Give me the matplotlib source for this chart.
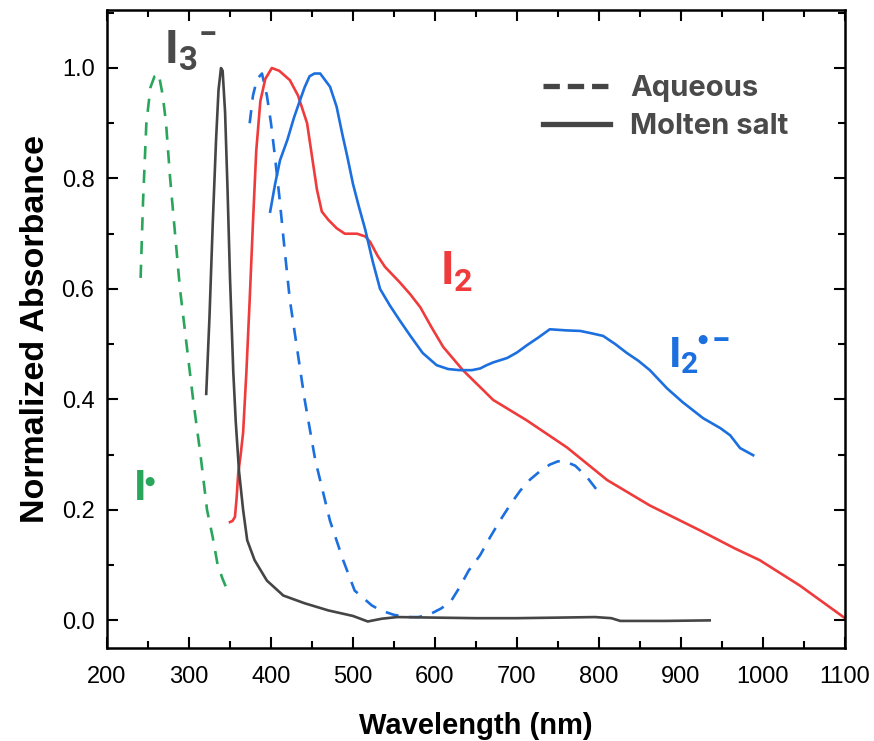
import numpy as np
import matplotlib.pyplot as plt
from matplotlib.lines import Line2D
from matplotlib.ticker import MultipleLocator

plt.rcParams['font.family'] = ['Liberation Sans', 'DejaVu Sans']
plt.rcParams['mathtext.fontset'] = 'custom'
plt.rcParams['mathtext.rm'] = 'Roboto:bold'
plt.rcParams['mathtext.it'] = 'Roboto:bold'
plt.rcParams['mathtext.bf'] = 'Roboto:bold'

# I* radical, aqueous (dashed green)
i_rad_wl = [241, 244, 248, 253, 258, 263, 268, 272, 277, 283, 289, 297, 305, 314, 322, 329, 335, 341, 348]
i_rad_abs = [0.62, 0.76, 0.90, 0.965, 0.985, 0.99, 0.95, 0.90, 0.80, 0.70, 0.60, 0.50, 0.40, 0.30, 0.20, 0.15, 0.10, 0.075, 0.05]

# I3- molten salt (solid gray)
i3_wl = [321, 325, 329, 333, 336, 339, 341, 344, 347, 350, 354, 357, 361, 366, 371, 380, 395, 415, 441, 470, 500, 518,
         535, 554, 600, 650, 700, 750, 795, 815, 826, 880, 935]
i3_abs = [0.41, 0.55, 0.72, 0.87, 0.96, 1.0, 0.995, 0.92, 0.78, 0.62, 0.45, 0.36, 0.27, 0.20, 0.145, 0.109, 0.072, 0.045, 0.031,
          0.018, 0.008, -0.002, 0.003, 0.006, 0.005, 0.004, 0.004, 0.005, 0.006, 0.004, -0.001, -0.001, 0.0]

# I2 molten salt (solid red)
i2_wl = [350, 353, 356, 358, 360, 363, 366, 370, 374, 378, 382, 387, 393, 401, 410, 423, 433, 444, 450, 456, 462, 470, 480,
         490, 505, 515, 521, 530, 539, 557, 570, 582, 596, 610, 634, 671, 712, 761, 810, 862, 923, 966, 996, 1045, 1100]
i2_abs = [0.178, 0.18, 0.187, 0.22, 0.266, 0.30, 0.34, 0.45, 0.58, 0.72, 0.85, 0.94, 0.98, 1.0, 0.995, 0.978, 0.95, 0.90,
          0.84, 0.78, 0.74, 0.725, 0.71, 0.70, 0.70, 0.695, 0.685, 0.66, 0.64, 0.612, 0.59, 0.567, 0.53, 0.495, 0.453,
          0.399, 0.362, 0.313, 0.254, 0.208, 0.163, 0.13, 0.109, 0.063, 0.004]

# I2*- aqueous (dashed blue), two bands
i2r_aq_wl = [374, 378, 383, 389, 395, 400, 404, 410, 416, 423, 432, 441, 454, 472, 488, 502, 523, 534, 550, 565, 580, 595,
             608, 620, 630, 641, 655, 667, 679, 692, 704, 716, 728, 740, 750, 760, 771, 785, 798]
i2r_aq_abs = [0.90, 0.95, 0.98, 0.99, 0.95, 0.90, 0.85, 0.77, 0.68, 0.58, 0.49, 0.40, 0.29, 0.18, 0.109, 0.054, 0.027,
              0.018, 0.010, 0.006, 0.006, 0.012, 0.022, 0.036, 0.06, 0.09, 0.118, 0.15, 0.18, 0.21, 0.235, 0.255, 0.27,
              0.282, 0.288, 0.287, 0.28, 0.26, 0.235]

# I2*- molten salt (solid blue)
i2r_wl = [399, 405, 411, 420, 428, 435, 441, 447, 453, 460, 466, 472, 480, 487, 493, 500, 507, 515, 524, 533, 545, 557,
          570, 585, 602, 616, 630, 645, 655, 663, 671, 688, 700, 712, 726, 740, 760, 777, 790, 805, 820, 834, 848, 862,
          883, 902, 927, 948, 960, 972, 988]
i2r_abs = [0.74, 0.79, 0.833, 0.87, 0.91, 0.94, 0.965, 0.985, 0.99, 0.99, 0.978, 0.966, 0.93, 0.88, 0.84, 0.79, 0.75,
           0.707, 0.65, 0.60, 0.57, 0.543, 0.515, 0.484, 0.462, 0.455, 0.453, 0.453, 0.456, 0.462, 0.467, 0.475, 0.485,
           0.498, 0.512, 0.527, 0.525, 0.524, 0.52, 0.515, 0.50, 0.484, 0.47, 0.453, 0.42, 0.395, 0.366, 0.348, 0.335,
           0.312, 0.299]

gray = '#454545'
red = '#ef3b3b'
blue = '#1c6fde'
green = '#2aa55c'

fig = plt.figure(figsize=(8.74, 7.41), dpi=100)
ax = fig.add_axes([107 / 874, 1 - 648 / 741, 738 / 874, 638 / 741])

lw = 1.9
ax.plot(i_rad_wl, i_rad_abs, color=green, lw=lw, ls=(0, (5, 4)))
ax.plot(i2r_aq_wl, i2r_aq_abs, color=blue, lw=lw, ls=(0, (5, 4)))
ax.plot(i2_wl, i2_abs, color=red, lw=lw)
ax.plot(i2r_wl, i2r_abs, color=blue, lw=lw)
ax.plot(i3_wl, i3_abs, color=gray, lw=lw)

ax.set_xlim(200, 1100)
ax.set_ylim(-0.05, 1.105)
ax.xaxis.set_major_locator(MultipleLocator(100))
ax.xaxis.set_minor_locator(MultipleLocator(50))
ax.yaxis.set_major_locator(MultipleLocator(0.2))
ax.yaxis.set_minor_locator(MultipleLocator(0.1))
ax.yaxis.set_major_formatter(plt.FuncFormatter(lambda v, p: f'{v:.1f}'))
ax.tick_params(which='both', direction='in', top=True, right=True, width=1.5, labelsize=17, colors='black')
ax.tick_params(which='major', length=8)
ax.tick_params(which='minor', length=5)
ax.tick_params(axis='x', which='major', pad=13)
ax.tick_params(axis='y', which='major', pad=9)
for sp in ax.spines.values():
    sp.set_linewidth(1.8)

ax.set_xlabel('Wavelength (nm)', fontsize=21, fontweight='bold', labelpad=17)
ax.set_ylabel('Normalized Absorbance', fontsize=24.5, fontweight='bold', labelpad=8)

# species labels
ax.text(270, 1.03, '$\\mathrm{I}_3{}^{\u2212}$', color='#4a4a4a', fontsize=34, ha='left', va='center')
ax.text(606, 0.63, r'$\mathrm{I}_2$', color=red, fontsize=33, ha='left', va='center')

# radical anion: I2 with a dot and minus raised after it
ax.text(884, 0.48, r'$\mathrm{I}_2$', color=blue, fontsize=31, ha='left', va='center')
ax.annotate('\u25cf', xy=(884, 0.48), xytext=(25, 11.5), textcoords='offset points',
            fontsize=8.5, color=blue, ha='center', va='center', family='DejaVu Sans')
ax.annotate('\u2212', xy=(884, 0.48), xytext=(38.5, 9.5), textcoords='offset points',
            fontsize=24, color=blue, ha='center', va='center', family='Roboto', fontweight='bold')

# iodine atom radical
ax.text(232, 0.238, r'$\mathrm{I}$', color=green, fontsize=31, ha='left', va='center')
ax.annotate('\u25cf', xy=(232, 0.238), xytext=(12, 5.5), textcoords='offset points',
            fontsize=8.5, color=green, ha='center', va='center', family='DejaVu Sans')

handles = [Line2D([], [], color=gray, lw=3.8, ls=(0, (3.1, 1.5))),
           Line2D([], [], color=gray, lw=3.8)]
leg = fig.legend(handles, ['Aqueous', 'Molten salt'], loc='upper left',
                 bbox_to_anchor=(543 / 874, 1 - 75 / 741), bbox_transform=fig.transFigure,
                 frameon=False, handlelength=2.3, labelspacing=0.37, handletextpad=0.7,
                 borderpad=0, borderaxespad=0,
                 prop={'family': 'Inter', 'weight': 'bold', 'size': 21})
for t in leg.get_texts():
    t.set_color('#4a4a4a')

fig.savefig('out.png', dpi=100)
